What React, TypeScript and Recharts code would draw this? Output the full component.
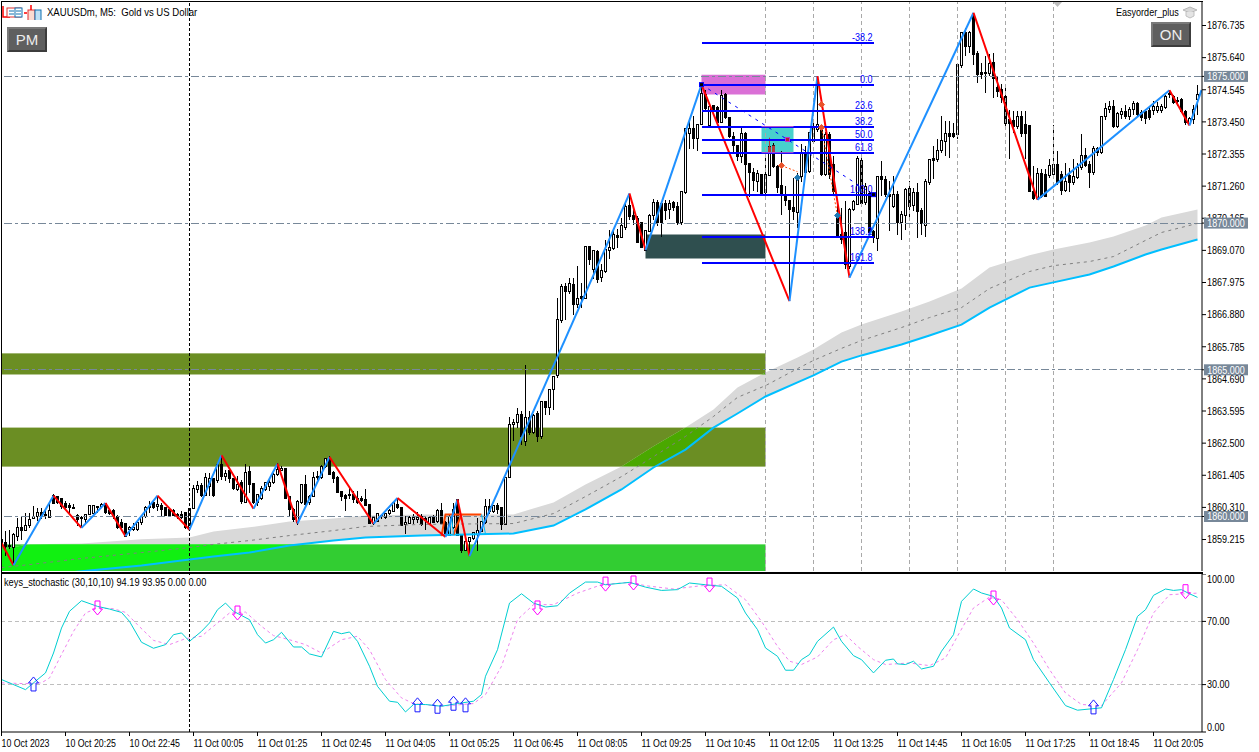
import React from "react";
import { ComposedChart, Bar, Line, Area, XAxis, YAxis, ReferenceLine, ReferenceArea, ReferenceDot } from "recharts";

// ---- price data: [open, high, low, close] per M5 bar
const candlesA = [
[1859.21,1859.27,1858.76,1859.08],[1859.13,1859.50,1858.65,1858.99],[1859.01,1859.55,1858.90,1858.97],[1858.93,1859.44,1858.36,1859.38],[1859.33,1859.95,1859.16,1859.61],
[1859.61,1860.01,1859.21,1859.53],[1859.53,1860.12,1859.50,1859.69],[1859.70,1860.12,1859.61,1859.90],[1859.92,1860.35,1859.90,1859.99],[1860.01,1860.29,1859.84,1860.12],
[1860.12,1860.29,1859.90,1860.05],[1860.05,1860.18,1859.90,1860.07],[1859.98,1860.41,1859.95,1860.20],[1860.71,1860.75,1860.41,1860.44],[1860.67,1860.69,1860.41,1860.46],
[1860.60,1860.63,1860.24,1860.35],[1860.43,1860.52,1860.24,1860.32],[1860.38,1860.46,1860.12,1860.32],[1860.31,1860.41,1860.24,1860.29],[1860.03,1860.07,1859.67,1859.90],
[1859.92,1860.01,1859.61,1859.97],[1859.90,1860.07,1859.76,1860.07],[1860.07,1860.39,1860.05,1860.39],[1860.10,1860.40,1860.08,1860.38],[1860.29,1860.35,1860.12,1860.35],
[1860.35,1860.46,1860.30,1860.41],[1860.44,1860.46,1860.10,1860.12],[1860.21,1860.23,1860.05,1860.10],[1860.20,1860.24,1859.90,1860.01],[1860.01,1860.05,1859.58,1859.61],
[1859.78,1859.90,1859.50,1859.61],[1859.75,1859.78,1859.30,1859.33],[1859.55,1859.67,1859.33,1859.61],[1859.55,1859.78,1859.50,1859.63],[1859.55,1859.83,1859.52,1859.80],
[1859.78,1860.03,1859.72,1860.01],[1860.01,1860.35,1859.95,1860.31],[1860.29,1860.52,1860.12,1860.35],[1860.46,1860.52,1860.24,1860.31],[1860.35,1860.69,1860.18,1860.41],
[1860.38,1860.46,1859.98,1860.24],[1860.29,1860.32,1860.02,1860.03],[1860.24,1860.30,1860.03,1860.04],[1860.20,1860.24,1860.03,1860.04],[1860.08,1860.12,1859.90,1860.05],
[1860.08,1860.18,1859.90,1859.95],[1860.12,1860.14,1859.58,1859.61],[1859.61,1860.27,1859.58,1860.26],[1860.26,1861.09,1860.24,1860.94],[1860.92,1861.20,1860.80,1861.05],
];
const candlesB = [
[1861.05,1861.15,1860.67,1860.71],[1860.71,1861.49,1860.69,1861.32],[1861.03,1861.49,1860.69,1861.28],[1861.28,1861.32,1860.65,1860.71],[1861.23,1861.77,1861.15,1861.77],
[1861.77,1862.05,1861.26,1861.35],[1861.35,1861.60,1861.20,1861.46],[1861.58,1861.60,1861.15,1861.28],[1861.28,1861.32,1860.90,1860.95],[1860.92,1861.37,1860.86,1861.09],
[1861.15,1861.26,1860.41,1860.52],[1860.49,1861.80,1860.46,1861.49],[1861.54,1861.73,1860.80,1861.09],[1861.11,1861.15,1860.41,1860.46],[1860.46,1860.75,1860.35,1860.75],
[1860.63,1861.03,1860.55,1860.97],[1860.92,1861.18,1860.86,1861.17],[1861.03,1861.26,1860.86,1861.15],[1861.15,1861.49,1861.10,1861.43],[1861.43,1861.83,1861.37,1861.60],
[1861.57,1861.71,1861.54,1861.62],[1861.62,1861.66,1860.58,1860.60],[1860.69,1860.69,1860.01,1860.24],[1860.24,1860.29,1859.80,1859.90],[1859.78,1860.55,1859.72,1860.52],
[1860.46,1861.09,1860.41,1861.09],[1861.09,1861.40,1860.35,1860.41],[1860.46,1860.72,1860.40,1860.69],[1860.69,1861.51,1860.69,1861.32],[1861.32,1861.54,1861.26,1861.37],
[1861.32,1861.75,1861.28,1861.71],[1861.71,1862.00,1861.66,1861.99],[1861.99,1862.05,1861.40,1861.43],[1861.49,1861.54,1861.15,1861.28],[1861.32,1861.37,1860.82,1860.83],
[1860.84,1860.86,1860.52,1860.67],[1860.71,1860.75,1860.20,1860.63],[1860.76,1860.97,1860.58,1860.74],[1860.75,1860.86,1860.46,1860.58],[1860.60,1860.86,1860.41,1860.46],
[1860.60,1860.70,1860.50,1860.55],[1860.58,1860.92,1860.35,1860.38],[1860.41,1860.43,1859.74,1859.76],[1859.76,1859.98,1859.72,1859.95],[1859.84,1860.10,1859.80,1860.10],
[1859.99,1860.06,1859.92,1860.03],[1859.95,1860.12,1859.92,1860.10],[1860.10,1860.24,1860.05,1860.20],[1860.18,1860.50,1860.14,1860.46],[1860.41,1860.63,1860.24,1860.29],
[1860.29,1860.33,1859.69,1859.70],[1859.73,1860.01,1859.42,1859.78],[1859.75,1860.03,1859.73,1859.95],[1859.90,1860.07,1859.76,1859.95],[1859.90,1860.14,1859.78,1859.97],
];
const candlesC = [
[1860.01,1860.07,1859.67,1859.73],[1859.92,1860.01,1859.55,1859.88],[1859.75,1859.98,1859.72,1859.95],[1860.01,1860.05,1859.80,1859.80],[1859.84,1860.24,1859.78,1860.20],
[1860.20,1860.46,1859.73,1859.75],[1859.78,1859.85,1859.35,1859.36],[1859.36,1860.05,1859.34,1860.01],[1859.61,1860.46,1859.58,1860.24],[1860.58,1860.60,1859.35,1859.36],
[1859.36,1859.38,1858.76,1858.85],[1858.85,1859.16,1858.82,1859.16],[1859.16,1859.27,1858.65,1859.27],[1859.25,1859.46,1859.20,1859.44],[1859.38,1859.95,1858.82,1859.52],
[1859.50,1859.86,1859.48,1859.84],[1859.78,1860.60,1859.73,1860.35],[1860.35,1860.60,1860.10,1860.18],[1860.18,1860.40,1860.12,1860.37],[1860.37,1860.46,1860.07,1860.24],
[1860.29,1860.29,1859.53,1859.73],[1859.73,1861.35,1859.70,1861.32],[1861.32,1863.39,1861.30,1863.12],[1863.12,1863.33,1862.57,1863.21],[1863.19,1863.70,1863.02,1863.46],
[1863.46,1863.59,1862.42,1862.74],[1862.54,1865.18,1862.39,1863.39],[1863.39,1863.59,1862.79,1862.85],[1862.85,1863.50,1862.80,1863.45],[1863.51,1863.59,1862.53,1862.74],
[1862.74,1863.95,1862.64,1863.93],[1863.93,1863.93,1863.47,1863.70],[1863.70,1864.33,1863.47,1864.33],[1864.33,1864.80,1863.62,1864.78],
];
const candlesD = [
[1864.80,1867.45,1864.72,1866.71],[1866.69,1867.94,1866.60,1867.85],[1867.83,1867.96,1866.69,1867.68],[1867.68,1868.13,1867.60,1867.94],[1867.91,1868.13,1866.88,1867.22],
[1867.22,1868.55,1867.11,1867.42],[1867.49,1867.96,1867.11,1867.42],[1867.42,1869.23,1867.40,1869.21],[1869.19,1869.21,1868.56,1868.76],[1868.42,1869.10,1868.08,1869.08],
[1869.04,1869.10,1867.96,1868.08],[1868.13,1868.59,1867.99,1868.40],[1868.36,1869.44,1868.30,1869.10],[1869.08,1869.78,1868.78,1869.16],[1869.12,1869.78,1869.08,1869.60],
[1869.58,1869.80,1869.16,1869.52],[1869.52,1870.18,1869.50,1869.92],[1869.86,1870.69,1869.76,1870.58],[1870.60,1870.97,1870.12,1870.21],[1870.26,1870.52,1869.95,1870.12],
[1870.14,1870.23,1869.33,1869.33],[1870.01,1870.01,1869.18,1869.18],[1869.08,1869.78,1869.05,1869.75],[1869.72,1870.30,1869.68,1870.26],[1870.26,1870.83,1870.12,1870.69],
[1870.71,1870.80,1869.90,1870.01],[1870.66,1870.69,1869.53,1870.03],[1870.67,1870.80,1870.12,1870.44],[1870.46,1870.80,1870.14,1870.66],[1870.69,1870.75,1870.40,1870.54],
[1870.58,1870.71,1869.92,1870.01],[1870.01,1871.06,1869.95,1871.06],[1871.03,1873.24,1871.00,1873.24],[1873.05,1873.59,1872.51,1873.24],[1873.24,1873.64,1872.51,1872.87],
[1872.87,1873.35,1872.45,1873.35],[1873.35,1874.76,1873.33,1874.42],[1874.38,1874.55,1873.78,1873.89],[1873.33,1873.98,1873.30,1873.98],[1874.01,1874.04,1873.78,1873.87],
[1873.93,1874.00,1873.40,1873.42],[1873.44,1874.55,1873.42,1874.36],[1874.38,1874.44,1873.55,1873.59],[1873.59,1873.62,1872.90,1872.96],[1872.94,1873.10,1872.34,1872.64],
[1872.64,1872.64,1872.11,1872.28],[1872.28,1873.24,1872.05,1873.07],[1873.05,1873.10,1870.97,1872.00],[1872.03,1872.03,1870.90,1871.71],[1871.71,1871.88,1871.09,1871.46],
[1871.43,1871.80,1871.05,1871.69],[1871.66,1871.69,1870.97,1871.01],[1871.03,1872.39,1871.00,1871.66],[1871.63,1872.91,1871.60,1872.60],[1872.64,1872.73,1871.88,1871.92],
[1871.94,1871.97,1871.03,1871.20],
];
const candlesE = [
[1871.28,1872.45,1870.29,1870.94],[1870.95,1871.26,1870.58,1870.77],[1870.77,1870.80,1867.40,1870.46],[1870.52,1871.54,1870.12,1870.39],[1870.37,1871.71,1869.84,1871.60],
[1871.60,1872.68,1871.40,1872.40],[1872.37,1872.62,1871.60,1871.71],[1871.77,1873.10,1871.70,1873.08],[1872.79,1873.40,1872.70,1873.25],[1873.19,1875.01,1873.10,1873.36],
[1873.19,1873.30,1871.60,1871.66],[1871.66,1873.10,1871.60,1873.02],[1873.02,1873.10,1871.50,1871.66],[1872.00,1872.30,1871.00,1871.09],[1870.24,1870.81,1869.50,1869.56],
[1869.61,1870.50,1869.30,1869.44],[1869.67,1870.75,1868.42,1868.59],[1868.53,1870.50,1868.45,1870.46],[1870.46,1870.80,1870.40,1870.75],[1870.63,1872.28,1870.60,1872.19],
[1872.15,1872.30,1870.60,1870.67],[1870.69,1871.35,1870.60,1871.26],[1871.01,1871.10,1869.60,1869.67],[1869.73,1869.78,1869.33,1869.50],[1869.47,1871.60,1869.04,1871.60],
];
const candlesF = [
[1871.60,1872.13,1870.92,1871.49],[1871.49,1871.60,1870.90,1870.97],[1870.97,1871.43,1869.72,1870.92],[1870.58,1871.60,1870.50,1870.97],[1870.97,1871.10,1869.61,1870.03],
[1870.03,1870.40,1869.44,1870.29],[1870.26,1871.20,1869.78,1871.14],[1871.17,1871.43,1870.18,1870.58],[1870.60,1871.20,1870.40,1871.05],[1871.05,1871.37,1869.50,1870.41],
[1870.44,1870.50,1869.61,1869.99],[1869.92,1871.49,1869.53,1871.43],[1871.39,1872.20,1871.30,1872.17],[1872.19,1872.62,1871.49,1872.14],[1872.17,1872.85,1872.08,1872.47],
[1872.49,1873.64,1872.40,1872.81],[1872.79,1873.47,1872.28,1873.05],[1873.05,1873.47,1872.22,1872.94],[1873.04,1873.42,1872.90,1872.94],[1873.02,1875.40,1872.85,1875.40],
[1875.38,1876.51,1875.30,1876.48],[1876.48,1876.65,1875.71,1876.03],[1876.03,1876.55,1875.80,1876.48],[1877.11,1877.17,1875.40,1875.75],[1875.78,1875.85,1874.78,1875.06],
[1875.12,1875.46,1874.90,1875.06],[1875.14,1875.69,1874.42,1875.10],[1875.10,1875.75,1875.00,1875.43],[1875.46,1875.80,1874.27,1874.92],[1874.61,1874.98,1874.30,1874.50],
[1874.55,1874.75,1874.10,1874.27],[1874.33,1874.69,1873.30,1873.39],[1873.53,1873.87,1872.19,1873.39],[1873.51,1873.81,1873.08,1873.30],[1873.28,1873.81,1873.20,1873.62],
[1873.64,1873.81,1872.95,1873.05],[1873.36,1873.81,1872.17,1873.05],[1873.33,1873.35,1871.05,1871.09],[1871.09,1871.94,1870.80,1870.83],[1870.83,1871.88,1870.80,1871.69],
[1871.69,1871.85,1870.85,1870.89],[1871.66,1871.85,1870.88,1870.92],[1871.62,1872.17,1871.55,1871.96],[1871.66,1873.36,1871.60,1872.00],[1872.00,1872.45,1871.30,1871.37],
[1871.66,1871.77,1870.97,1871.12],[1871.12,1872.05,1871.05,1871.43],[1871.62,1871.88,1871.05,1871.39],[1871.37,1872.17,1871.30,1871.58],[1871.54,1872.05,1871.50,1871.90],
[1871.88,1873.04,1871.80,1872.30],[1872.30,1872.56,1871.90,1871.97],[1872.00,1872.10,1871.18,1871.71],[1871.71,1872.64,1871.65,1872.53],[1872.53,1872.60,1872.30,1872.42],
[1872.42,1873.65,1872.35,1873.62],[1873.62,1874.10,1873.50,1873.89],[1873.87,1874.15,1873.75,1873.96],[1873.96,1874.21,1873.25,1873.30],[1873.30,1873.80,1873.25,1873.72],
[1873.70,1873.93,1873.55,1873.81],[1873.81,1874.01,1873.55,1873.62],[1873.62,1873.95,1873.50,1873.87],[1873.87,1874.15,1873.70,1874.06],[1874.06,1874.12,1873.60,1873.70],
[1873.76,1873.87,1873.47,1873.59],[1873.81,1873.90,1873.39,1873.55],[1873.85,1873.95,1873.50,1873.59],[1873.85,1874.15,1873.70,1873.98],[1873.85,1874.12,1873.75,1873.96],
[1873.85,1874.05,1873.75,1873.96],[1873.93,1874.38,1873.88,1874.33],[1874.39,1874.55,1874.27,1874.42],[1874.33,1874.38,1874.05,1874.12],[1874.18,1874.30,1874.00,1874.13],
[1874.21,1874.25,1873.75,1873.81],[1873.81,1873.85,1873.35,1873.42],[1873.39,1873.60,1873.35,1873.55],[1873.53,1874.01,1873.39,1873.87],[1874.21,1874.69,1873.67,1874.38],
];

// ---- moving-average envelope
const bandIdx = [0,7,20,35,47,53,62,72,83,91,105,128,138,146,155,163,171,178,184,191,199,203,210,215,225,232,240,247,257,263,272,278,286,290,299];
const bandHi = [1858.88,1859.05,1859.08,1859.22,1859.28,1859.49,1859.63,1859.83,1859.93,1860.03,1860.07,1860.07,1860.48,1861.09,1861.70,1862.39,1863.03,1863.65,1864.40,1864.91,1865.42,1865.69,1866.27,1866.54,1866.99,1867.33,1867.77,1868.49,1868.90,1869.10,1869.34,1869.54,1869.92,1870.19,1870.46];
const bandLo = [1857.85,1857.96,1858.13,1858.33,1858.53,1858.64,1858.77,1859.01,1859.18,1859.28,1859.35,1859.42,1859.69,1860.24,1860.92,1861.67,1862.28,1863.03,1863.51,1864.09,1864.57,1864.81,1865.28,1865.49,1865.86,1866.17,1866.54,1867.12,1867.80,1867.98,1868.25,1868.52,1868.93,1869.10,1869.44];
const bandMid = [1858.26,1858.36,1858.57,1858.77,1858.94,1859.05,1859.18,1859.35,1859.52,1859.66,1859.73,1859.76,1860.10,1860.68,1861.36,1862.04,1862.73,1863.41,1864.06,1864.46,1865.04,1865.32,1865.73,1866.00,1866.44,1866.78,1867.12,1867.77,1868.35,1868.55,1868.69,1868.86,1869.41,1869.68,1869.99];

// ---- zigzag
const zigzagIdx = [0,3,13,20,26,31,39,47,55,63,69,74,82,93,99,111,114,117,157,161,175,197,204,212,243,259,292,297,300];
const zigzagPrice = [1859.10,1858.34,1860.71,1859.61,1860.46,1859.33,1860.71,1859.55,1862.09,1860.26,1861.80,1859.76,1862.03,1859.75,1860.63,1859.30,1860.58,1858.65,1871.01,1869.08,1874.72,1867.34,1875.01,1868.14,1877.17,1870.80,1874.53,1873.33,1874.53];

// ---- small orange / cyan swing lines
const orangeA = { idx: [110,111,120], price: [1859.33,1860.07,1860.07] };
const orangeB = { idx: [113,115], price: [1859.38,1860.07] };
const cyanA = { idx: [112,112.5,113], price: [1859.39,1860.01,1859.39] };
const cyanB = { idx: [120,121], price: [1860.07,1859.40] };

// ---- fibonacci
const fiboLabels = ["-38.2","0.0","23.6","38.2","50.0","61.8","100.0","138.2","161.8"];
const fiboPrices = [1876.15,1874.72,1873.835,1873.29,1872.845,1872.40,1870.97,1869.54,1868.65];
const fiboStart = 175;
const fiboEnd = 218;

// ---- price levels & ticks
const priceTicks = [1876.735,1875.64,1874.545,1873.45,1872.355,1871.26,1870.165,1869.07,1867.975,1866.88,1865.785,1864.69,1863.595,1862.5,1861.405,1860.31,1859.215];
const levelTags = [1875,1870,1865,1860];
const greyVLines = [191,203,215,227,239,251,263];
const blackVLine = 47;

// ---- oscillator
const stochIdx = [0,6,8,11,13,15,17,20,24,27,30,32,35,38,41,43,45,47,50,52,54,56,58,62,64,66,68,70,73,75,77,80,83,85,87,89,92,94,97,99,101,103,106,110,114,118,120,121,124,127,130,133,136,139,142,146,149,151,157,161,165,169,172,176,180,184,186,189,191,194,196,198,200,202,204,208,210,213,215,218,221,223,224,226,228,230,233,235,238,240,243,245,248,250,252,256,258,262,266,269,275,278,281,284,286,288,291,293,295,297,299];
const stochMain = [33.2,26.8,31.1,37.4,50.0,65.8,76.4,83.1,79.5,77.8,75.7,70.0,56.8,53.0,55.3,61.6,62.7,57.4,63.7,69.0,77.4,81.6,76.4,71.1,61.6,56.3,58.4,63.1,53.8,53.8,49.4,47.5,63.7,62.2,63.3,57.4,41.6,28.9,19.5,18.8,12.7,17.4,17.4,16.3,18.0,19.5,23.7,35.3,52.1,81.6,87.5,81.6,79.1,79.9,87.9,94.9,94.9,93.2,94.7,91.7,89.6,90.1,94.3,93.2,92.2,84.8,75.3,64.8,53.2,47.9,39.1,39.1,45.8,49.0,57.4,66.4,57.4,48.3,45.8,37.4,45.4,46.2,43.1,42.7,44.8,39.9,41.6,51.1,61.6,82.7,90.5,88.0,85.8,78.5,65.8,58.4,45.8,31.1,16.7,13.8,15.3,33.2,52.1,73.2,77.4,86.5,90.5,89.6,90.1,87.5,85.2];
const signalIdx = [0,6,10,12,15,18,21,24,28,31,34,38,42,46,50,53,57,61,65,68,72,76,80,85,89,92,96,100,103,110,118,121,125,129,133,138,144,150,157,161,168,175,181,186,190,194,197,200,204,208,211,214,218,221,227,232,236,239,243,247,250,254,258,262,266,270,275,280,284,288,292,299];
const signalVal = [31.1,30.6,31.1,34.2,49.0,63.7,75.3,78.5,78.0,75.7,67.9,58.0,55.3,59.1,60.6,66.9,75.3,75.9,66.9,61.0,58.4,55.3,50.0,58.4,60.6,52.1,33.2,21.6,18.0,16.3,18.0,23.7,41.6,71.1,80.6,80.6,87.9,93.2,94.7,92.6,90.5,92.6,93.2,83.7,70.0,54.2,44.8,42.7,47.5,58.4,61.6,54.2,45.8,42.7,43.7,42.0,46.9,60.6,78.5,85.4,83.7,71.1,56.3,39.5,24.7,17.4,16.7,31.1,52.1,75.3,86.9,87.9];
const upArrowIdx = [8,104,109,113,116,273];
const upArrowVal = [30.4,17.2,16.3,18.2,17.2,15.9];
const downArrowIdx = [24,59,134,151,158,177,248,296];
const downArrowVal = [78.5,75.3,78.5,93.6,94.3,93.0,84.8,88.8];
const stochTicks = [100,70,30,0];
const stochLevels = [70,30];

const timeTickIdx = [0,16,32,48,64,80,96,112,128,144,160,176,192,208,224,240,256,272,288];
const timeLabels = ["10 Oct 2023","10 Oct 20:25","10 Oct 22:45","11 Oct 00:05","11 Oct 01:25","11 Oct 02:45","11 Oct 04:05","11 Oct 05:25","11 Oct 06:45","11 Oct 08:05","11 Oct 09:25","11 Oct 10:45","11 Oct 12:05","11 Oct 13:25","11 Oct 14:45","11 Oct 16:05","11 Oct 17:25","11 Oct 18:45","11 Oct 20:05"];

// ---- derived tables
const candleRows = [...candlesA, ...candlesB, ...candlesC, ...candlesD, ...candlesE, ...candlesF].map((r, i) => ({ i, o: r[0], h: r[1], l: r[2], c: r[3] }));
const bandRows = bandIdx.map((i, k) => ({ i, hi: bandHi[k], lo: bandLo[k], mid: bandMid[k], range: [bandLo[k], bandHi[k]] }));
const pairs = (idx: number[], val: number[]) => idx.map((i, k) => ({ i, v: val[k] }));
const zigzagSegs = zigzagIdx.slice(1).map((_, k) => ({
  data: pairs(zigzagIdx.slice(k, k + 2), zigzagPrice.slice(k, k + 2)),
  color: zigzagPrice[k + 1] < zigzagPrice[k] ? "#FF0000" : "#1E90FF",
}));

const FONT = '"Liberation Sans",sans-serif';
const domainX: [number, number] = [0.125, 300.125];
const domainPrice: [number, number] = [1858.142, 1877.536];

const NText = ({ x, y, sx = 0.86, anchor = "start", fill = "#000", size = 10.5, children }: any) => (
  <text transform={`translate(${x} ${y}) scale(${sx} 1)`} textAnchor={anchor} fontSize={size} fontFamily={FONT} fill={fill}>{children}</text>
);

const Candle = (p: any) => {
  const { x, y, width, height, payload } = p;
  const k = height / Math.max(payload.h - payload.l, 1e-6);
  const cx = x + width / 2;
  const yO = y + (payload.h - payload.o) * k;
  const yC = y + (payload.h - payload.c) * k;
  const top = Math.min(yO, yC);
  const bh = Math.max(Math.abs(yO - yC), 1);
  const bull = payload.c >= payload.o;
  return (
    <g shapeRendering="crispEdges">
      <line x1={cx} x2={cx} y1={y} y2={y + height} stroke="#000" strokeWidth={1} />
      <rect x={cx - 1} y={top} width={2} height={bh} fill={bull ? "#fff" : "#000"} stroke="#000" strokeWidth={1} />
    </g>
  );
};

const PriceTick = (p: any) => {
  const { x, y, payload } = p;
  const v = payload.value;
  if (levelTags.includes(v)) {
    return (
      <g>
        <rect x={x - 3} y={y - 5.5} width={44} height={11} fill="#778899" />
        <NText x={x + 19} y={y + 3.8} anchor="middle" fill="#fff">{v.toFixed(3)}</NText>
      </g>
    );
  }
  return <NText x={x} y={y + 3.8}>{v.toFixed(3)}</NText>;
};

const StochTick = (p: any) => {
  const { x, y, payload } = p;
  const v = payload.value;
  const shift = v === 100 ? 5 : v === 0 ? -5 : 0;
  return <NText x={x} y={y + 3.8 + shift}>{v.toFixed(2)}</NText>;
};

const TimeTick = (p: any) => {
  const { x, y, payload } = p;
  const k = timeTickIdx.indexOf(payload.value);
  return <NText x={x} y={y + 9} sx={0.84}>{timeLabels[k]}</NText>;
};

const UpArrow = (p: any) => {
  const { cx, cy } = p;
  return <path d={`M${cx} ${cy - 7}L${cx + 5} ${cy - 1}H${cx + 2.5}V${cy + 7}H${cx - 2.5}V${cy - 1}H${cx - 5}Z`} fill="none" stroke="#1A1AFF" strokeWidth={1} />;
};
const DownArrow = (p: any) => {
  const { cx, cy } = p;
  return <path d={`M${cx} ${cy + 7}L${cx + 5} ${cy + 1}H${cx + 2.5}V${cy - 7}H${cx - 2.5}V${cy + 1}H${cx - 5}Z`} fill="none" stroke="#FF00FF" strokeWidth={1} />;
};
const Diamond = (color: string) => (p: any) => {
  const { cx, cy } = p;
  return <path d={`M${cx - 3} ${cy}L${cx} ${cy - 3}L${cx + 3} ${cy}L${cx} ${cy + 3}Z`} fill={color} stroke={color} />;
};
const Anchor = (p: any) => {
  const { cx, cy } = p;
  return <rect x={cx - 2} y={cy - 2} width={4} height={4} fill="#000" stroke="#0000FF" strokeWidth={1} />;
};
const PurpleMark = (p: any) => {
  const { cx, cy } = p;
  return <rect x={cx - 2} y={cy - 2} width={4} height={4} fill="#B02030" stroke="#C030D0" strokeWidth={1} />;
};

const fiboLabel = (text: string) => (p: any) => {
  const vb = p.viewBox;
  return <NText x={vb.x + vb.width - 1} y={vb.y - 2} anchor="end" size={10.5} fill="#0000FF">{text}</NText>;
};

const Button = ({ text, left, top }: { text: string; left: number; top: number }) => (
  <div style={{ position: "absolute", left, top, width: 40, height: 25, boxSizing: "border-box", background: "#5F5F5F",
    borderTop: "2px solid #7A7A7A", borderLeft: "2px solid #7A7A7A", borderBottom: "2px solid #3C3C3C", borderRight: "2px solid #3C3C3C",
    color: "#EDEDED", font: `15px "Liberation Sans",sans-serif`, lineHeight: "21px", textAlign: "center" }}>{text}</div>
);

const hdr = (sx: number): React.CSSProperties => ({ position: "absolute", font: `10.5px ${FONT}`, color: "#000", whiteSpace: "pre", lineHeight: "12px", transform: `scaleX(${sx})`, transformOrigin: "0 0" });
const crisp = { shapeRendering: "crispEdges" } as any;

export default function App() {
  return (
    <div style={{ position: "fixed", left: 0, top: 0, width: 1259, height: 752, background: "#fff", overflow: "hidden" }}>
      <div style={{ position: "absolute", left: 0, top: 0 }}>
        <ComposedChart width={1259} height={572} data={candleRows} margin={{ top: 2, right: 2, bottom: 1, left: 2 }}>
          <XAxis type="number" dataKey="i" domain={domainX} allowDataOverflow ticks={timeTickIdx} hide />
          <YAxis orientation="right" type="number" width={55} domain={domainPrice} allowDataOverflow ticks={[...priceTicks, ...levelTags]} interval={0} tick={<PriceTick />} tickSize={4} tickMargin={1} stroke="#000" tickLine={{ stroke: "#000" }} />

          <ReferenceArea x1={0.125} x2={191} y1={1864.84} y2={1865.56} fill="#6B8E23" fillOpacity={1} stroke="none" ifOverflow="hidden"
            shape={(p: any) => (<g><clipPath id="zoneA"><rect x={p.x} y={p.y} width={p.width} height={p.height} /></clipPath><rect x={p.x} y={p.y} width={p.width} height={p.height} fill="#6B8E23" /></g>)} />
          <ReferenceArea x1={0.125} x2={191} y1={1861.70} y2={1863.03} fill="#6B8E23" fillOpacity={1} stroke="none" ifOverflow="hidden"
            shape={(p: any) => (<g><clipPath id="zoneB"><rect x={p.x} y={p.y} width={p.width} height={p.height} /></clipPath><rect x={p.x} y={p.y} width={p.width} height={p.height} fill="#6B8E23" /></g>)} />
          <ReferenceArea x1={0.125} x2={191} y1={1858.142} y2={1859.05} fill="#32CD32" fillOpacity={1} stroke="none" ifOverflow="hidden"
            shape={(p: any) => (<g><clipPath id="zoneC"><rect x={p.x} y={p.y} width={p.width} height={p.height} /></clipPath><rect x={p.x} y={p.y} width={p.width} height={p.height} fill="#32CD32" /></g>)} />
          <ReferenceArea x1={161} x2={191} y1={1868.79} y2={1869.61} fill="#2F4F4F" fillOpacity={1} stroke="none" />
          <ReferenceArea x1={175} x2={191} y1={1874.38} y2={1875.06} fill="#DA70D6" fillOpacity={1} stroke="none" />

          <Area data={bandRows} dataKey="range" type="linear" stroke="none" fill="#D9D9D9" fillOpacity={1} dot={false} activeDot={false} isAnimationActive={false} />
          <Area data={bandRows} dataKey="range" type="linear" stroke="none" fill="#4AA800" fillOpacity={1} dot={false} activeDot={false} isAnimationActive={false} style={{ clipPath: "url(#zoneA)" }} clipPath="url(#zoneA)" />
          <Area data={bandRows} dataKey="range" type="linear" stroke="none" fill="#4AA800" fillOpacity={1} dot={false} activeDot={false} isAnimationActive={false} style={{ clipPath: "url(#zoneB)" }} clipPath="url(#zoneB)" />
          <Area data={bandRows} dataKey="range" type="linear" stroke="none" fill="#11F011" fillOpacity={1} dot={false} activeDot={false} isAnimationActive={false} style={{ clipPath: "url(#zoneC)" }} clipPath="url(#zoneC)" />

          {levelTags.map((v) => <ReferenceLine key={v} y={v} stroke="#778899" strokeDasharray="8 3 3 3" {...crisp} />)}
          {greyVLines.map((v) => <ReferenceLine key={v} x={v} stroke="#A9A9A9" strokeDasharray="4 3" {...crisp} />)}
          <ReferenceLine x={blackVLine} stroke="#000" strokeDasharray="3 2" {...crisp} />

          <Line data={bandRows} dataKey="mid" type="linear" stroke="#808080" strokeWidth={1} strokeDasharray="3 4" dot={false} activeDot={false} isAnimationActive={false} />
          <Bar dataKey={(d: any) => [d.l, d.h]} barSize={4} shape={<Candle />} isAnimationActive={false} />
          <Line data={bandRows} dataKey="lo" type="linear" stroke="#00BFFF" strokeWidth={2} dot={false} activeDot={false} isAnimationActive={false} />

          <ReferenceArea x1={190} x2={198} y1={1872.40} y2={1873.29} fill="#48D1CC" fillOpacity={1} stroke="none" />
          <ReferenceLine segment={[{ x: 192, y: 1872.40 }, { x: 192, y: 1872.91 }]} stroke="#B03A3A" strokeWidth={1} />
          <ReferenceLine segment={[{ x: 191.75, y: 1872.40 }, { x: 191.75, y: 1872.60 }]} stroke="#B03A3A" strokeWidth={1} />
          <ReferenceLine segment={[{ x: 192.25, y: 1872.40 }, { x: 192.25, y: 1872.60 }]} stroke="#B03A3A" strokeWidth={1} />
          <ReferenceLine segment={[{ x: 193, y: 1872.40 }, { x: 193, y: 1872.64 }]} stroke="#B03A3A" strokeWidth={3} />

          {[orangeA, orangeB].map((s, k) => <Line key={"o" + k} data={pairs(s.idx, s.price)} dataKey="v" stroke="#FF4500" strokeWidth={2} dot={false} activeDot={false} isAnimationActive={false} />)}
          {[cyanA, cyanB].map((s, k) => <Line key={"c" + k} data={pairs(s.idx, s.price)} dataKey="v" stroke="#00BFFF" strokeWidth={1} dot={false} activeDot={false} isAnimationActive={false} />)}
          {zigzagSegs.map((s, k) => <Line key={"z" + k} data={s.data} dataKey="v" stroke={s.color} strokeWidth={2} dot={false} activeDot={false} isAnimationActive={false} />)}

          <Line data={pairs([fiboStart, fiboEnd], [fiboPrices[1], fiboPrices[6]])} dataKey="v" stroke="#0000FF" strokeWidth={1} strokeDasharray="3 5" dot={false} activeDot={false} isAnimationActive={false} />
          <Line data={pairs([195, 199], [1871.96, 1871.75])} dataKey="v" stroke="#FF4500" strokeWidth={1} strokeDasharray="2 2" dot={false} activeDot={false} isAnimationActive={false} />
          <Line data={pairs([205, 209], [1873.26, 1870.26])} dataKey="v" stroke="#FF4500" strokeWidth={1} strokeDasharray="2 2" dot={false} activeDot={false} isAnimationActive={false} />
          {fiboPrices.map((v, k) => (
            <ReferenceLine key={"f" + k} segment={[{ x: fiboStart, y: v }, { x: fiboEnd, y: v }]} stroke="#0000FF" strokeWidth={2} label={fiboLabel(fiboLabels[k])} {...crisp} />
          ))}
          <ReferenceLine segment={[{ x: 190, y: 1873.29 }, { x: 198, y: 1873.29 }]} stroke="#BA55D3" strokeWidth={1} />
          <ReferenceLine segment={[{ x: 190, y: 1872.40 }, { x: 198, y: 1872.40 }]} stroke="#BA55D3" strokeWidth={1} />
          <ReferenceDot x={fiboStart} y={fiboPrices[1]} shape={<Anchor />} ifOverflow="visible" />
          <ReferenceDot x={fiboEnd} y={fiboPrices[6]} shape={<Anchor />} ifOverflow="visible" />
          <ReferenceDot x={196.5} y={1872.85} shape={<PurpleMark />} ifOverflow="visible" />
          <ReferenceDot x={195} y={1871.96} shape={Diamond("#E9532A")} ifOverflow="visible" />
          <ReferenceDot x={205} y={1874.04} shape={Diamond("#E9532A")} ifOverflow="visible" />
          <ReferenceDot x={205} y={1873.26} shape={Diamond("#E9532A")} ifOverflow="visible" />
          <ReferenceDot x={199} y={1871.55} shape={Diamond("#1E78B4")} ifOverflow="visible" />
          <ReferenceDot x={209} y={1870.26} shape={Diamond("#1E78B4")} ifOverflow="visible" />
        </ComposedChart>
      </div>

      <div style={{ position: "absolute", left: 0, top: 574 }}>
        <ComposedChart width={1259} height={178} margin={{ top: 0, right: 2, bottom: 0, left: 2 }}>
          <XAxis type="number" dataKey="i" domain={domainX} allowDataOverflow ticks={timeTickIdx} interval={0} tick={<TimeTick />} tickSize={4} height={20} stroke="#000" />
          <YAxis orientation="right" type="number" width={55} domain={[0, 100]} ticks={stochTicks} interval={0} tick={<StochTick />} tickSize={4} tickMargin={1} stroke="#000" />
          {stochLevels.map((v) => <ReferenceLine key={v} y={v} stroke="#BEBEBE" strokeDasharray="4 3" {...crisp} />)}
          <ReferenceLine x={blackVLine} stroke="#000" strokeDasharray="3 2" {...crisp} />
          <Line data={pairs(signalIdx, signalVal)} dataKey="v" stroke="#EE82EE" strokeWidth={1} strokeDasharray="3 3" dot={false} activeDot={false} isAnimationActive={false} />
          <Line data={pairs(stochIdx, stochMain)} dataKey="v" stroke="#00CED1" strokeWidth={1} dot={false} activeDot={false} isAnimationActive={false} />
          {upArrowIdx.map((x, k) => <ReferenceDot key={"u" + k} x={x} y={upArrowVal[k]} shape={<UpArrow />} ifOverflow="visible" />)}
          {downArrowIdx.map((x, k) => <ReferenceDot key={"d" + k} x={x} y={downArrowVal[k]} shape={<DownArrow />} ifOverflow="visible" />)}
        </ComposedChart>
      </div>

      {/* pane borders */}
      <div style={{ position: "absolute", left: 1, top: 1, width: 1201, height: 570, borderTop: "1px solid #000", borderLeft: "1px solid #000", borderBottom: "1px solid #000", boxSizing: "content-box", pointerEvents: "none" }} />
      <div style={{ position: "absolute", left: 1, top: 573, width: 1201, height: 159, borderTop: "1px solid #000", borderLeft: "1px solid #000", pointerEvents: "none" }} />

      <svg style={{ position: "absolute", left: 2, top: 4 }} width={42} height={16}>
        <path d="M1 2V13H8" fill="none" stroke="#FF0000" strokeWidth={1.5} />
        <rect x={5} y={4} width={14} height={9} fill="#fff" stroke="#E03030" />
        <rect x={13} y={4} width={7} height={9} fill="#fff" stroke="#1070B0" />
        <path d="M7 7H12M7 10H12M14 7H19M14 10H19" stroke="#1070B0" strokeWidth={1} />
        <rect x={26} y={6} width={7} height={11} fill="#FBDAD0" stroke="#E03030" />
        <rect x={33} y={6} width={6} height={11} fill="#BFE0F5" stroke="#1070B0" />
        <path d="M22 9h3M29 1v5" stroke="#FF0000" strokeWidth={1.5} />
      </svg>
      <div style={{ ...hdr(0.91), left: 47, top: 6 }}>XAUUSDm, M5:  Gold vs US Dollar</div>
      <Button text="PM" left={7} top={27} />
      <Button text="ON" left={1151} top={22} />
      <div style={{ ...hdr(0.86), left: 1116, top: 6 }}>Easyorder_plus</div>
      <svg style={{ position: "absolute", left: 1182, top: 5 }} width={18} height={15}>
        <path d="M1 5L8 2L15 5L8 8Z" fill="#D8D8D8" stroke="#B8B8B8" />
        <path d="M4 7V11L8 13L12 11V7" fill="#E4E4E4" stroke="#C0C0C0" />
      </svg>
      <svg style={{ position: "absolute", left: 1053, top: 2 }} width={10} height={6}>
        <path d="M0 0H9L4.5 5Z" fill="#BDBDBD" />
      </svg>
      <div style={{ position: "absolute", left: 2, top: 575, width: 208, height: 16, background: "#fff" }} />
      <div style={{ ...hdr(0.88), left: 4, top: 576 }}>keys_stochastic (30,10,10) 94.19 93.95 0.00 0.00</div>
    </div>
  );
}
